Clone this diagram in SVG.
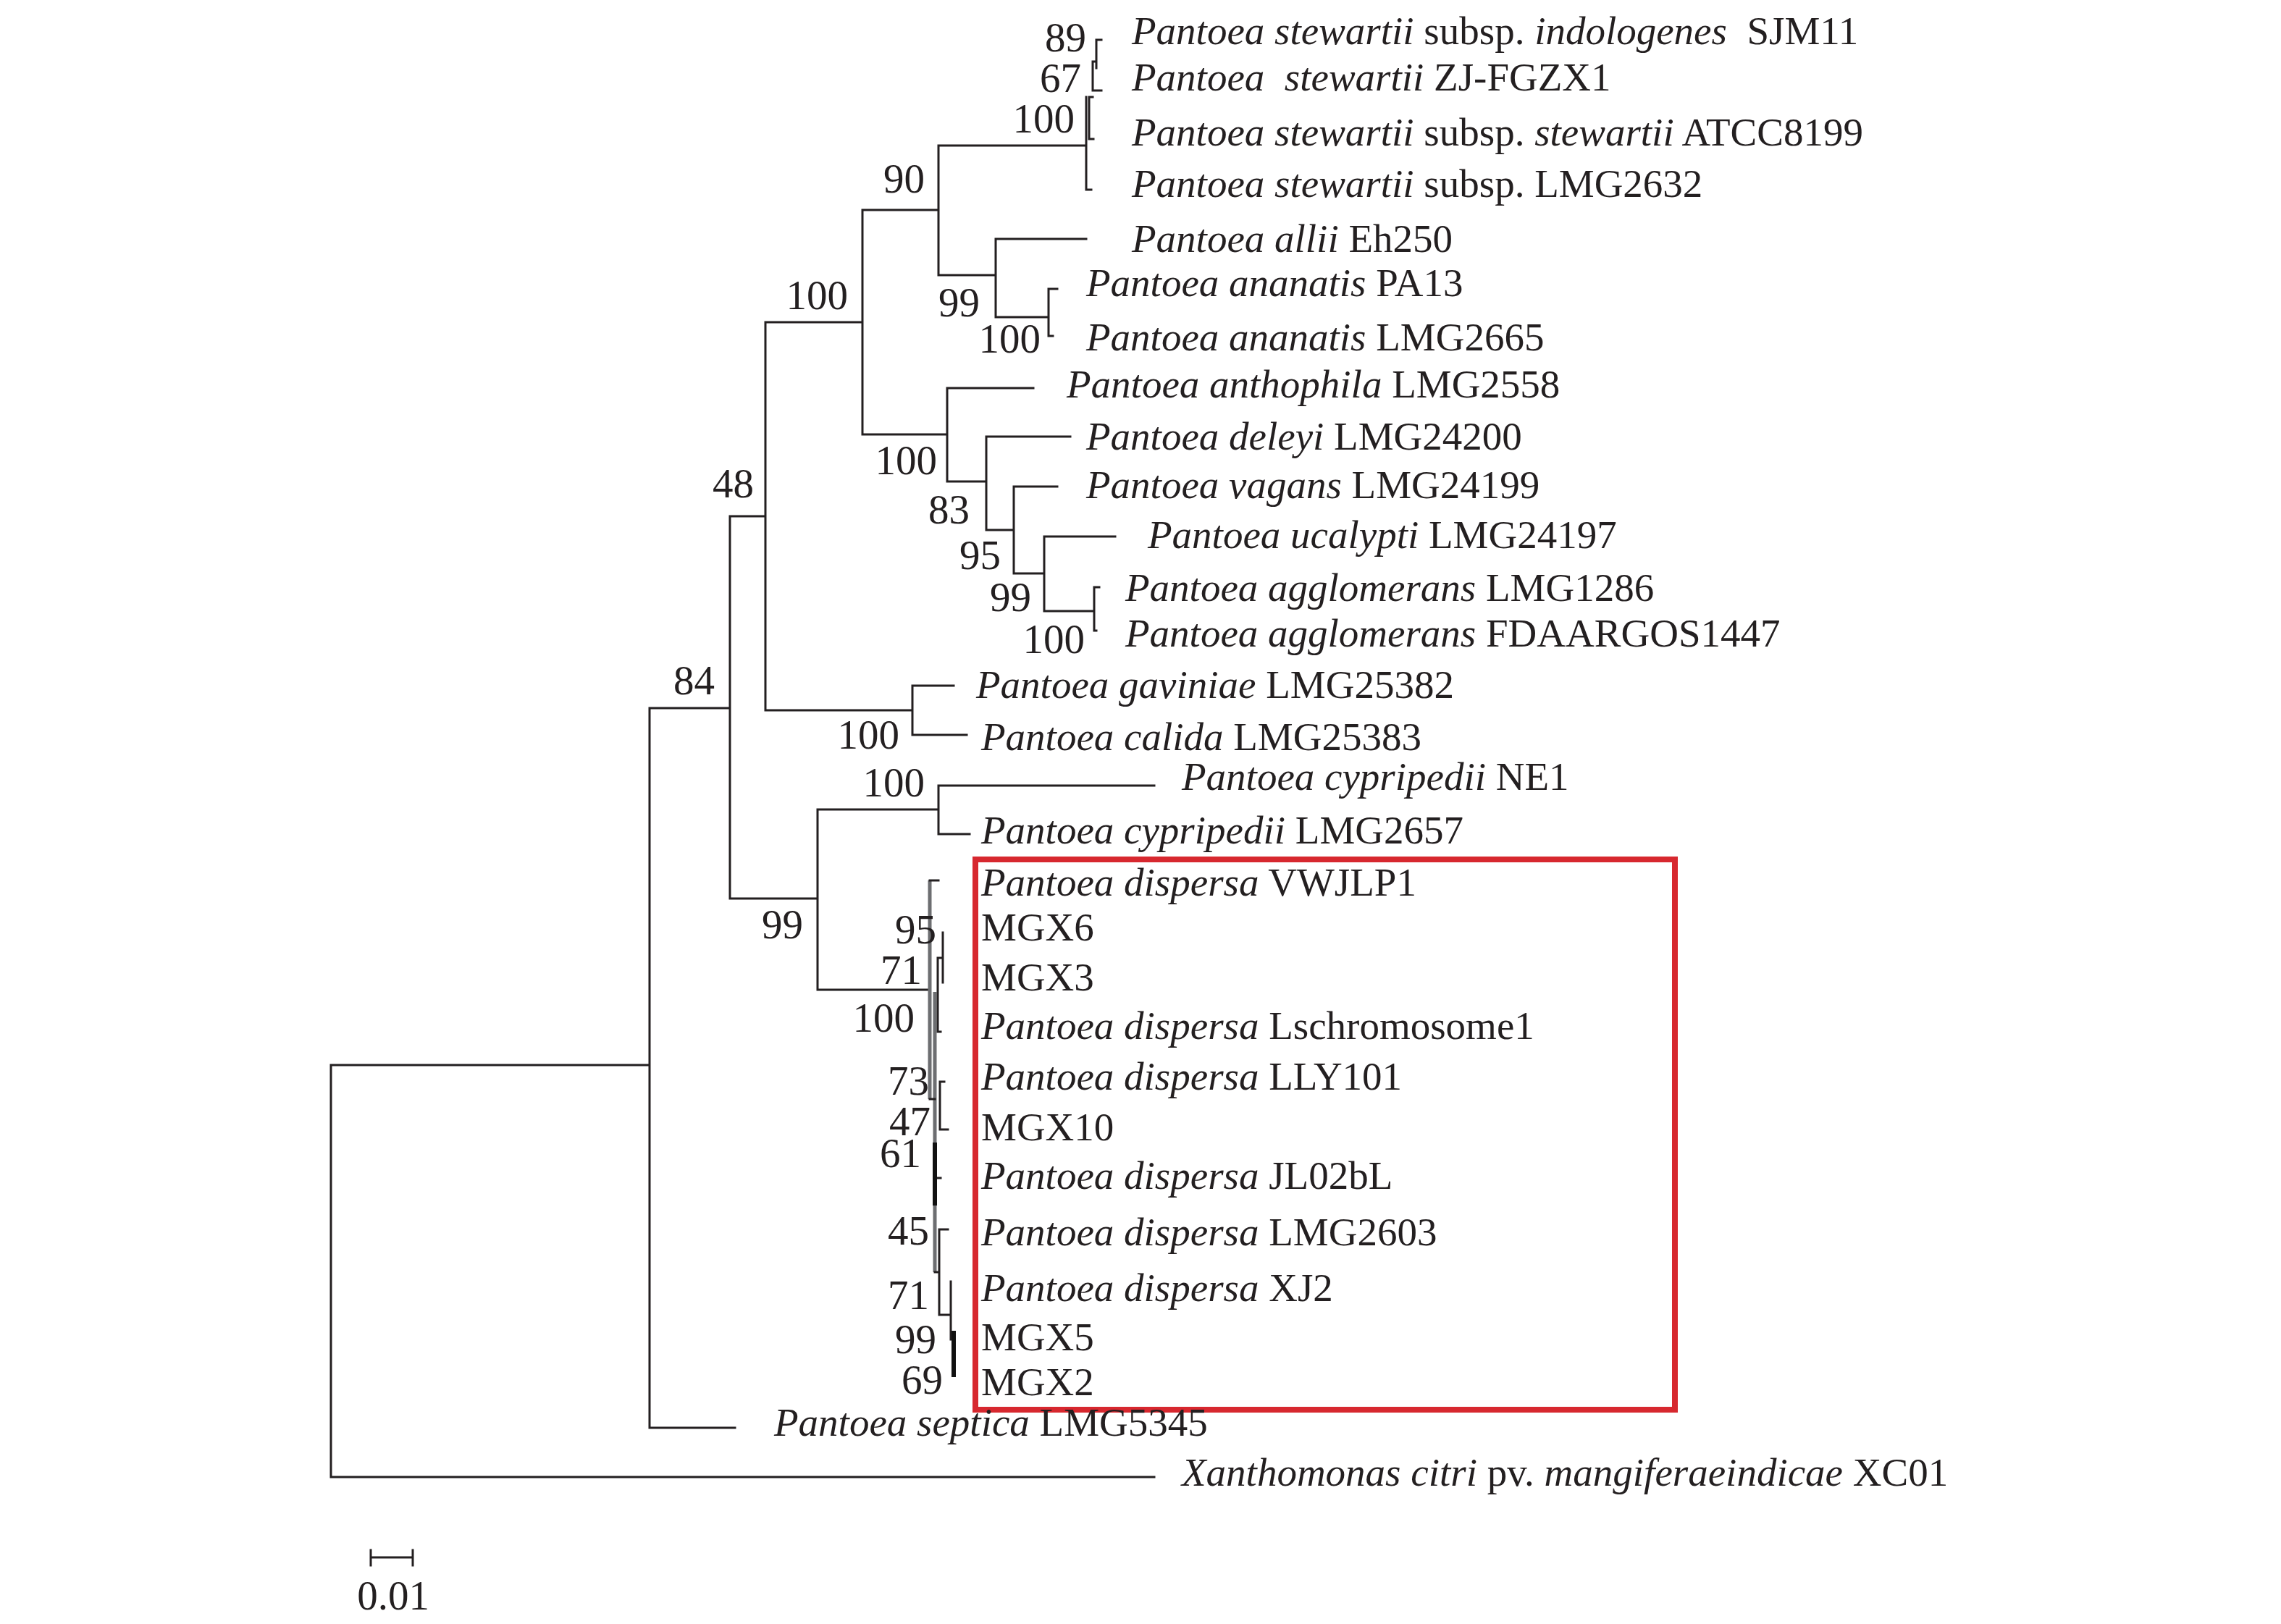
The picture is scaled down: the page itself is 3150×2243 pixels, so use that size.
<svg xmlns="http://www.w3.org/2000/svg" width="3150" height="2243" viewBox="0 0 3150 2243">
<style>
.t{font-family:"Liberation Serif","Times New Roman",serif;font-size:55px;fill:#231f20}
.i{font-style:italic}
.b{font-family:"Liberation Serif","Times New Roman",serif;font-size:57px;fill:#231f20;text-anchor:end}
.l{stroke:#231f20;stroke-width:3;fill:none;stroke-linecap:square}
.g{stroke:#6d6e71;stroke-width:5;fill:none}
.k{stroke:#111;stroke-width:6;fill:none}
</style>
<rect width="3150" height="2243" fill="#fff"/>
<g id="connectors">
<path class="l" d="M457 1471V2040M457 1471H897M457 2040H1594
M897 978V1972M897 978H1008M897 1972H1015
M1008 713V1241M1008 713H1057M1008 1241H1129
M1057 445V981M1057 445H1191M1057 981H1260
M1191 290V600M1191 290H1296M1191 600H1308
M1296 201V380M1296 201H1500M1296 380H1375
M1500 134V262H1507M1504 134V192H1510M1504 134H1509M1509 85V125H1521M1509 85H1514M1514 55V94M1514 55H1521
M1375 330V438M1375 330H1500M1375 438H1448
M1448 399V464M1448 399H1460M1448 464H1454
M1308 536V665M1308 536H1427M1308 665H1362
M1362 603V732M1362 603H1478M1362 732H1400
M1400 672V792M1400 672H1460M1400 792H1442
M1442 741V844M1442 741H1540M1442 844H1511
M1511 811V871M1511 811H1518M1511 871H1514
M1260 947V1015M1260 947H1317M1260 1015H1335
M1129 1118V1367M1129 1118H1296M1129 1367H1283
M1296 1085V1152M1296 1085H1594M1296 1152H1339"/>
<path class="g" d="M1284 1216V1518M1291 1370V1757"/>
<path class="l" d="M1284 1216H1296M1302 1288V1357M1295 1323H1302M1295 1323V1425H1299M1284 1518H1291
M1298 1494V1560M1298 1494H1304M1298 1560H1309M1291 1627H1299
M1291 1757H1297M1297 1698V1816M1297 1698H1309M1297 1816H1313M1313 1770V1850"/>
<path class="k" d="M1291 1578V1665M1317 1838V1902"/>
</g>
<g id="highlight-box"><rect x="1347" y="1187" width="966" height="760" fill="none" stroke="#d7282f" stroke-width="8"/></g>
<g id="leaves" class="t">
<g id="n-sjm11"><text x="1563" y="61" xml:space="preserve"><tspan class="i">Pantoea stewartii</tspan> subsp. <tspan class="i">indologenes</tspan>  SJM11</text></g>
<g id="n-zjfgzx1"><text x="1563" y="125" xml:space="preserve"><tspan class="i">Pantoea  stewartii</tspan> ZJ-FGZX1</text></g>
<g id="n-atcc8199"><text x="1563" y="201"><tspan class="i">Pantoea stewartii</tspan> subsp. <tspan class="i">stewartii</tspan> ATCC8199</text></g>
<g id="n-lmg2632"><text x="1563" y="272"><tspan class="i">Pantoea stewartii</tspan> subsp. LMG2632</text></g>
<g id="n-eh250"><text x="1563" y="348"><tspan class="i">Pantoea allii</tspan> Eh250</text></g>
<g id="n-pa13"><text x="1500" y="409"><tspan class="i">Pantoea ananatis</tspan> PA13</text></g>
<g id="n-lmg2665"><text x="1500" y="484"><tspan class="i">Pantoea ananatis</tspan> LMG2665</text></g>
<g id="n-lmg2558"><text x="1473" y="549"><tspan class="i">Pantoea anthophila</tspan> LMG2558</text></g>
<g id="n-lmg24200"><text x="1500" y="621"><tspan class="i">Pantoea deleyi</tspan> LMG24200</text></g>
<g id="n-lmg24199"><text x="1500" y="688"><tspan class="i">Pantoea vagans</tspan> LMG24199</text></g>
<g id="n-lmg24197"><text x="1585" y="757"><tspan class="i">Pantoea ucalypti</tspan> LMG24197</text></g>
<g id="n-lmg1286"><text x="1554" y="830"><tspan class="i">Pantoea agglomerans</tspan> LMG1286</text></g>
<g id="n-fdaargos1447"><text x="1554" y="893"><tspan class="i">Pantoea agglomerans</tspan> FDAARGOS1447</text></g>
<g id="n-lmg25382"><text x="1348" y="964"><tspan class="i">Pantoea gaviniae</tspan> LMG25382</text></g>
<g id="n-lmg25383"><text x="1355" y="1036"><tspan class="i">Pantoea calida</tspan> LMG25383</text></g>
<g id="n-ne1"><text x="1632" y="1091"><tspan class="i">Pantoea cypripedii</tspan> NE1</text></g>
<g id="n-lmg2657"><text x="1355" y="1165"><tspan class="i">Pantoea cypripedii</tspan> LMG2657</text></g>
<g id="n-vwjlp1"><text x="1355" y="1237"><tspan class="i">Pantoea dispersa</tspan> VWJLP1</text></g>
<g id="n-mgx6"><text x="1355" y="1299">MGX6</text></g>
<g id="n-mgx3"><text x="1355" y="1368">MGX3</text></g>
<g id="n-lschromosome1"><text x="1355" y="1435"><tspan class="i">Pantoea dispersa</tspan> Lschromosome1</text></g>
<g id="n-lly101"><text x="1355" y="1505"><tspan class="i">Pantoea dispersa</tspan> LLY101</text></g>
<g id="n-mgx10"><text x="1355" y="1575">MGX10</text></g>
<g id="n-jl02bl"><text x="1355" y="1642"><tspan class="i">Pantoea dispersa</tspan> JL02bL</text></g>
<g id="n-lmg2603"><text x="1355" y="1720"><tspan class="i">Pantoea dispersa</tspan> LMG2603</text></g>
<g id="n-xj2"><text x="1355" y="1797"><tspan class="i">Pantoea dispersa</tspan> XJ2</text></g>
<g id="n-mgx5"><text x="1355" y="1865">MGX5</text></g>
<g id="n-mgx2"><text x="1355" y="1927">MGX2</text></g>
<g id="n-lmg5345"><text x="1069" y="1983"><tspan class="i">Pantoea septica</tspan> LMG5345</text></g>
<g id="n-xc01"><text x="1632" y="2052"><tspan class="i">Xanthomonas citri</tspan> pv. <tspan class="i">mangiferaeindicae</tspan> XC01</text></g>
</g>
<g id="bootstrap" class="b">
<text x="1500" y="71">89</text>
<text x="1493" y="127">67</text>
<text x="1484" y="183">100</text>
<text x="1277" y="266">90</text>
<text x="1171" y="427">100</text>
<text x="1353" y="437">99</text>
<text x="1437" y="487">100</text>
<text x="1294" y="655">100</text>
<text x="1041" y="687">48</text>
<text x="1339" y="723">83</text>
<text x="1382" y="786">95</text>
<text x="1424" y="844">99</text>
<text x="1498" y="902">100</text>
<text x="987" y="959">84</text>
<text x="1242" y="1034">100</text>
<text x="1277" y="1100">100</text>
<text x="1109" y="1296">99</text>
<text x="1293" y="1303">95</text>
<text x="1273" y="1359">71</text>
<text x="1263" y="1425">100</text>
<text x="1283" y="1512">73</text>
<text x="1285" y="1568">47</text>
<text x="1272" y="1612">61</text>
<text x="1283" y="1719">45</text>
<text x="1283" y="1808">71</text>
<text x="1293" y="1869">99</text>
<text x="1302" y="1925">69</text>
</g>
<g id="scale-bar">
<path class="l" d="M512 2151H570M512 2141V2162M570 2141V2162"/>
<text class="b" x="593" y="2223">0.01</text>
</g>
</svg>
